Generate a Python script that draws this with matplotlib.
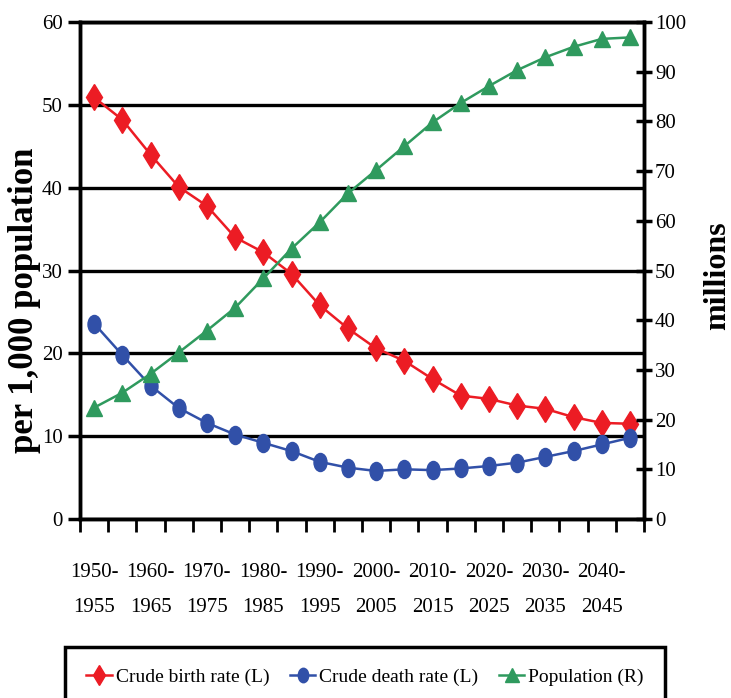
import matplotlib
matplotlib.use("Agg")
import matplotlib.pyplot as plt
import numpy as np
from matplotlib.path import Path
from matplotlib.transforms import Affine2D

plt.rcParams["font.family"] = ["Liberation Serif", "DejaVu Serif"]

# Five-year periods
periods = ["1950-1955", "1955-1960", "1960-1965", "1965-1970", "1970-1975",
           "1975-1980", "1980-1985", "1985-1990", "1990-1995", "1995-2000",
           "2000-2005", "2005-2010", "2010-2015", "2015-2020", "2020-2025",
           "2025-2030", "2030-2035", "2035-2040", "2040-2045", "2045-2050"]
period_labels = ["1950-\n1955", "1960-\n1965", "1970-\n1975", "1980-\n1985",
                 "1990-\n1995", "2000-\n2005", "2010-\n2015", "2020-\n2025",
                 "2030-\n2035", "2040-\n2045"]

# Rates per 1,000 population (left axis)
birth_rate = [50.9, 48.2, 44.0, 40.1, 37.8, 34.0, 32.2, 29.6, 25.8, 23.0,
              20.6, 19.1, 16.9, 14.9, 14.5, 13.7, 13.3, 12.3, 11.6, 11.5]
death_rate = [23.6, 19.8, 16.1, 13.4, 11.6, 10.2, 9.2, 8.2, 6.9, 6.2,
              5.8, 6.0, 5.9, 6.1, 6.4, 6.8, 7.5, 8.2, 9.0, 9.8]
# Population in millions (right axis)
population = [22.4, 25.4, 29.2, 33.5, 37.9, 42.5, 48.4, 54.4, 59.7, 65.5,
              70.2, 75.0, 79.8, 83.7, 87.1, 90.3, 92.9, 95.0, 96.6, 96.9]

left_ticks = [0, 10, 20, 30, 40, 50, 60]
right_ticks = [0, 10, 20, 30, 40, 50, 60, 70, 80, 90, 100]

RED = "#ec1c24"
BLUE = "#3150a8"
GREEN = "#2f9a5e"

fig = plt.figure(figsize=(7.31, 6.98), dpi=100)
ax = fig.add_axes([80 / 731, 1 - 519 / 698, 564 / 731, 497 / 698])
ax2 = ax.twinx()

x = np.arange(len(periods))
ax.set_xlim(-0.5, len(periods) - 0.5)
ax.set_ylim(0, 60)
ax2.set_ylim(0, 100)

ax.set_axisbelow(True)
ax.yaxis.grid(True, color="black", linewidth=2.4)

ellipse = Path.unit_circle().transformed(Affine2D().scale(0.72, 1.0))

l1, = ax.plot(x, birth_rate, color=RED, lw=1.8, marker="d", ms=13,
              label="Crude birth rate (L)", zorder=3)
l2, = ax.plot(x, death_rate, color=BLUE, lw=1.8, marker=ellipse, ms=13,
              label="Crude death rate (L)", zorder=3)
l3, = ax2.plot(x, population, color=GREEN, lw=1.8, marker="^", ms=12,
               label="Population (R)", zorder=3)

for a in (ax, ax2):
    for s in a.spines.values():
        s.set_linewidth(2.5)
        s.set_color("black")

ax.set_yticks(left_ticks)
ax2.set_yticks(right_ticks)
ax.tick_params(axis="y", direction="out", length=8.5, width=2.5,
               labelsize=15, pad=4)
ax2.tick_params(axis="y", direction="inout", length=12, width=2.5,
                labelsize=15, pad=2)

ax.set_xticks(np.arange(-0.5, len(periods), 1.0))
ax.set_xticklabels([])
ax.tick_params(axis="x", which="major", direction="out", length=9, width=2)
ax.set_xticks(x[::2], labels=period_labels, minor=True)
ax.tick_params(axis="x", which="minor", length=0, pad=32, labelsize=15)
for t in ax.get_xticklabels(minor=True):
    t.set_linespacing(2.1)

fig.text(25 / 731, 1 - 300 / 698, "per 1,000 population", rotation=90,
         ha="center", va="center", fontsize=25, fontweight="bold")
fig.text(718 / 731, 1 - 276 / 698, "millions", rotation=90,
         ha="center", va="center", fontsize=23, fontweight="bold")

leg = fig.legend(handles=[l1, l2, l3], loc="upper left",
                 bbox_to_anchor=(65 / 731, 1 - 647 / 698, 600 / 731, 0),
                 mode="expand", ncol=3, fontsize=14, frameon=True,
                 fancybox=False, edgecolor="black", framealpha=1.0,
                 borderpad=1.1, borderaxespad=0, handlelength=1.3,
                 handletextpad=0.2, columnspacing=0.4, markerscale=0.8)
leg.get_frame().set_linewidth(2.5)

fig.savefig("out.png", dpi=100)
